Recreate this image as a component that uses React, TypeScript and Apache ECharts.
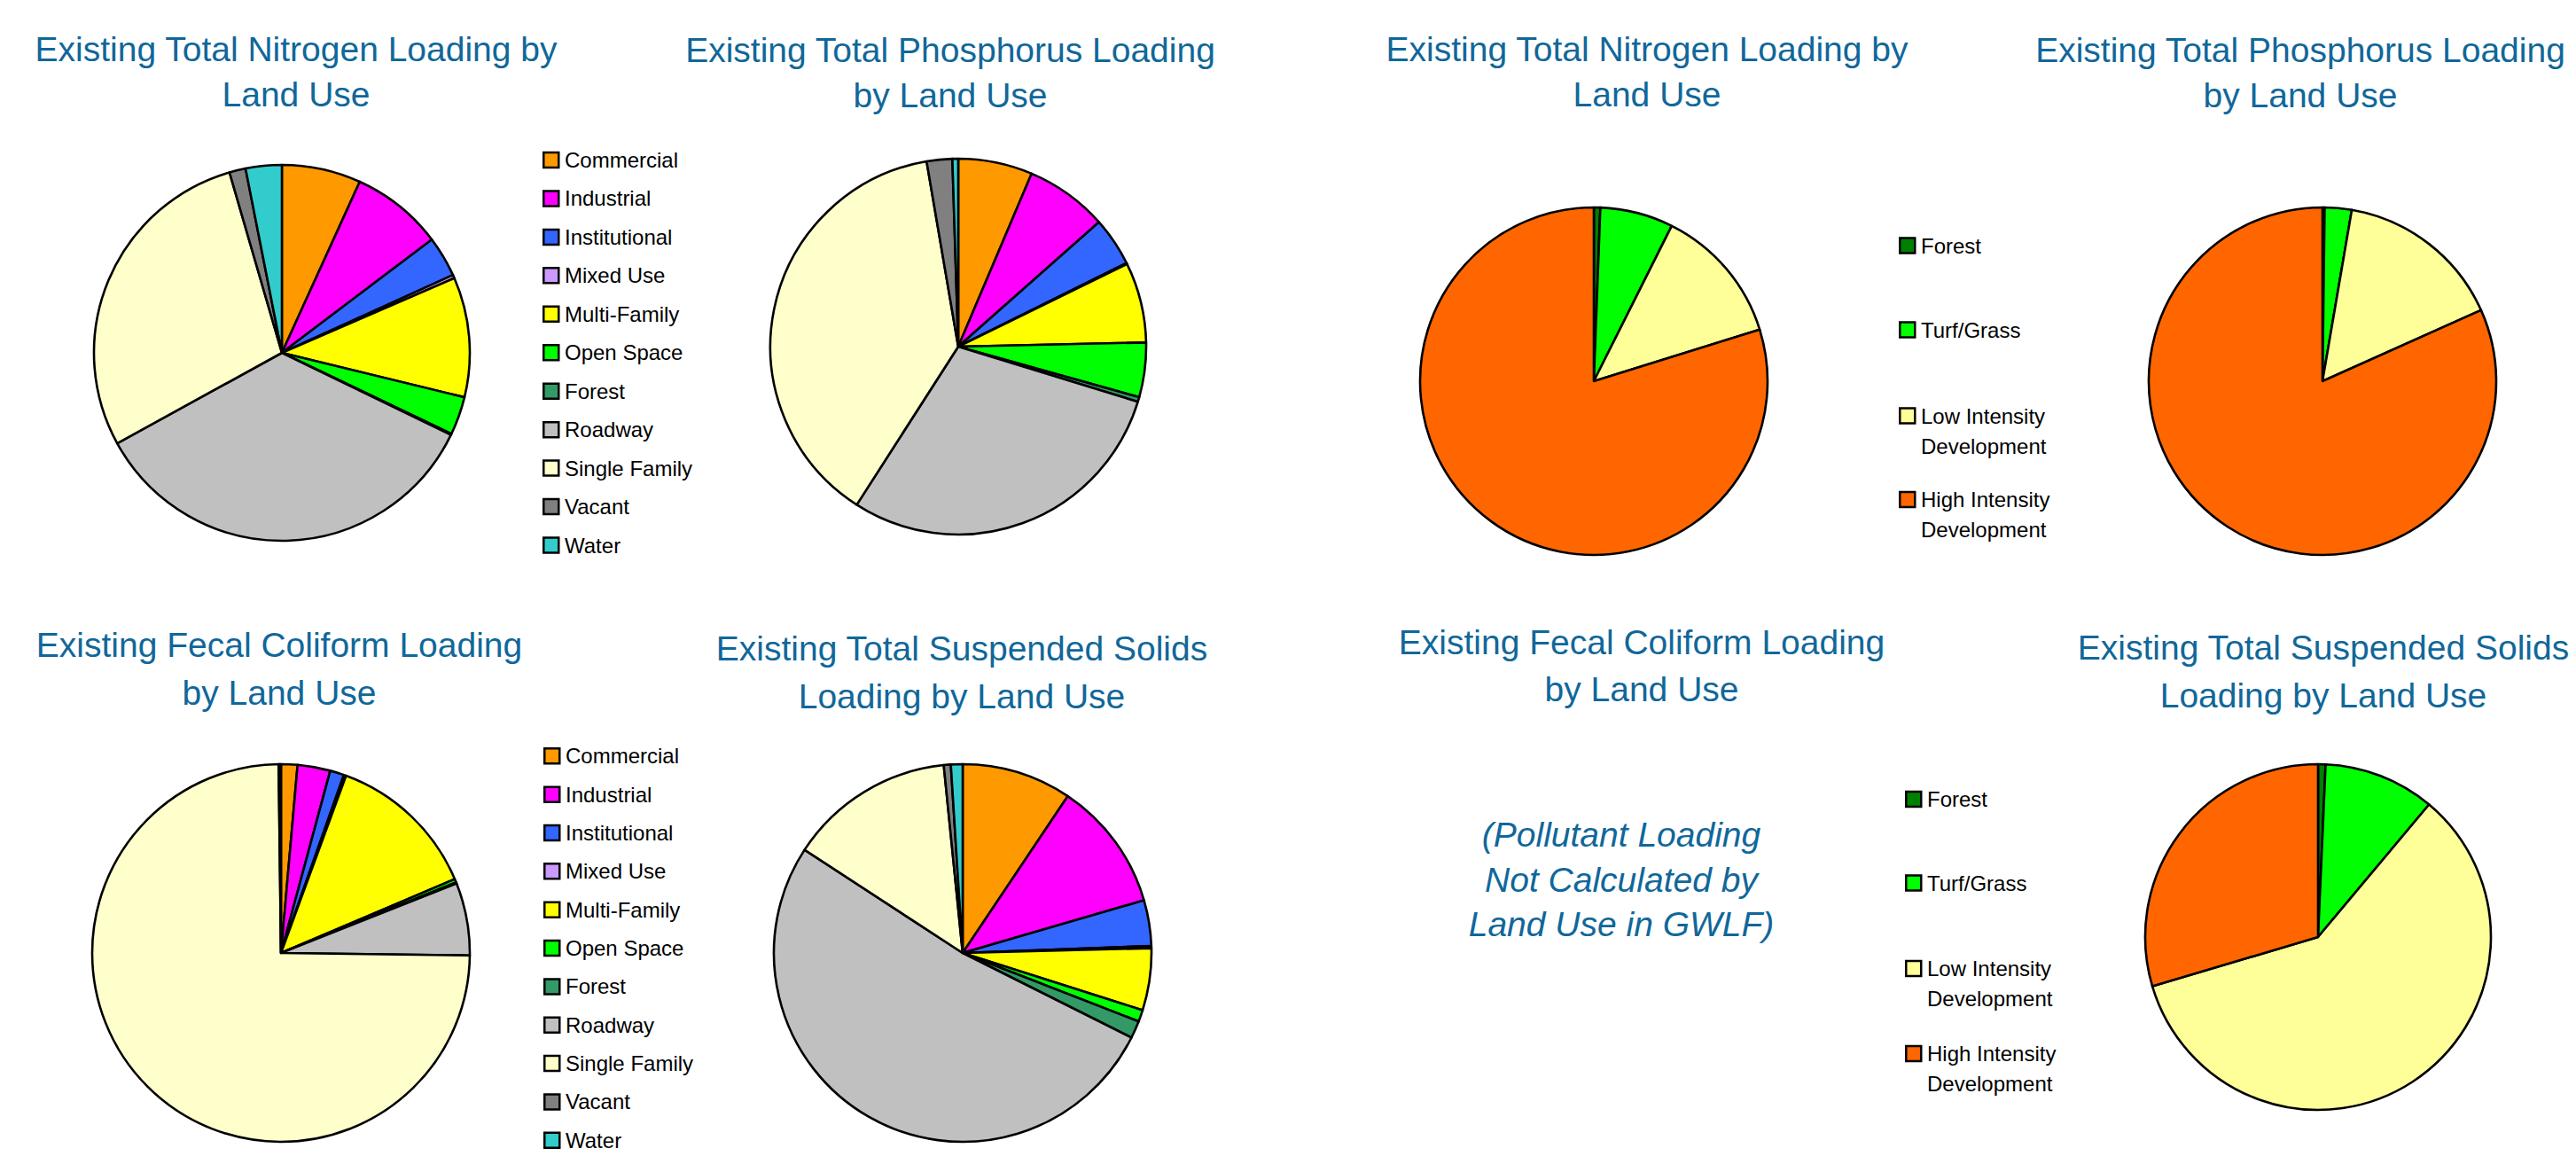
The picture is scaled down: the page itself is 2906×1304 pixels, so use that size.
import React, { useEffect, useRef } from "react";
import * as echarts from "echarts";

// Detailed land use classes (left-hand pies)
const landUses = [
  "Commercial",
  "Industrial",
  "Institutional",
  "Mixed Use",
  "Multi-Family",
  "Open Space",
  "Forest",
  "Roadway",
  "Single Family",
  "Vacant",
  "Water",
];
const landUseColors = [
  "#FF9900",
  "#FF00FF",
  "#3366FF",
  "#CC99FF",
  "#FFFF00",
  "#00FF00",
  "#339966",
  "#C0C0C0",
  "#FFFFCC",
  "#808080",
  "#33CCCC",
];

// Loading shares (%) by detailed land use
const nitrogenByLandUse = [6.8, 7.9, 3.5, 0.3, 10.3, 3.3, 0.1, 34.8, 28.5, 1.4, 3.1];
const phosphorusByLandUse = [6.4, 7.1, 4.2, 0.1, 6.9, 4.7, 0.4, 29.4, 38.3, 2.2, 0.5];
const fecalByLandUse = [1.4, 2.8, 1.2, 0.2, 13.0, 0.3, 0.1, 6.2, 74.6, 0.1, 0.1];
const tssByLandUse = [9.4, 11.1, 3.9, 0.2, 5.3, 1.0, 1.5, 51.8, 14.2, 0.6, 1.0];

// GWLF land cover classes (right-hand pies)
const gwlfClasses = [
  "Forest",
  "Turf/Grass",
  "Low Intensity Development",
  "High Intensity Development",
];
const gwlfColors = ["#008000", "#00FF00", "#FFFF99", "#FF6600"];

const nitrogenGwlf = [0.6, 6.8, 12.8, 79.8];
const phosphorusGwlf = [0.2, 2.5, 15.6, 81.7];
const tssGwlf = [0.7, 10.4, 59.3, 29.6];

const titleColor = "#10679A";
const titleFont = '39px "Liberation Sans", Arial, sans-serif';
const legendFont = '24px "Liberation Sans", Arial, sans-serif';

function pieSeries(
  id: string,
  names: string[],
  values: number[],
  colors: string[],
  center: [number, number],
  radius: number
) {
  return {
    type: "pie",
    id,
    center,
    radius,
    startAngle: 90,
    clockwise: true,
    silent: true,
    label: { show: false },
    labelLine: { show: false },
    emphasis: { disabled: true },
    itemStyle: { borderColor: "#000000", borderWidth: 2.6 },
    data: names.map((name, i) => ({
      name,
      value: values[i],
      itemStyle: { color: colors[i] },
    })),
  };
}

function titleText(text: string, x: number, firstLineY: number, lineHeight: number, italic = false) {
  return {
    type: "text",
    x,
    y: firstLineY - lineHeight / 2,
    silent: true,
    style: {
      text,
      fill: titleColor,
      font: (italic ? "italic " : "") + titleFont,
      align: "center",
      verticalAlign: "top",
      lineHeight,
    },
  };
}

// Legend built as swatch + label rows; wrapped labels keep the swatch beside the first line
function legendBlock(
  names: string[],
  colors: string[],
  x: number,
  rowYs: number[],
  lineHeight: number,
  wrap: (s: string) => string
) {
  const children: any[] = [];
  names.forEach((name, i) => {
    const cy = rowYs[i];
    children.push({
      type: "rect",
      silent: true,
      shape: { x: x + 1.25, y: cy - 8.5, width: 17, height: 17 },
      style: { fill: colors[i], stroke: "#000000", lineWidth: 2.5 },
    });
    children.push({
      type: "text",
      silent: true,
      x: x + 25,
      y: cy - lineHeight / 2,
      style: {
        text: wrap(name),
        fill: "#000000",
        font: legendFont,
        align: "left",
        verticalAlign: "top",
        lineHeight,
      },
    });
  });
  return children;
}

const evenRows = (start: number, step: number, n: number) =>
  Array.from({ length: n }, (_, i) => start + step * i);

export default function App() {
  const ref = useRef<HTMLDivElement>(null);

  useEffect(() => {
    if (!ref.current) return;
    const chart = echarts.init(ref.current, undefined, { renderer: "svg" });

    const wrapGwlf = (s: string) => s.replace(" Development", "\nDevelopment");
    const noWrap = (s: string) => s;

    chart.setOption({
      animation: false,
      backgroundColor: "#ffffff",
      series: [
        pieSeries("tn", landUses, nitrogenByLandUse, landUseColors, [318, 398], 212),
        pieSeries("tp", landUses, phosphorusByLandUse, landUseColors, [1081, 391], 212),
        pieSeries("fc", landUses, fecalByLandUse, landUseColors, [317, 1075], 213),
        pieSeries("tss", landUses, tssByLandUse, landUseColors, [1086, 1075], 213),
        pieSeries("tnGwlf", gwlfClasses, nitrogenGwlf, gwlfColors, [1798, 430], 196),
        pieSeries("tpGwlf", gwlfClasses, phosphorusGwlf, gwlfColors, [2620, 430], 196),
        pieSeries("tssGwlf", gwlfClasses, tssGwlf, gwlfColors, [2615, 1057], 195),
      ],
      graphic: [
        titleText("Existing Total Nitrogen Loading by\nLand Use", 334, 55, 51),
        titleText("Existing Total Phosphorus Loading\nby Land Use", 1072, 56, 51),
        titleText("Existing Total Nitrogen Loading by\nLand Use", 1858, 55, 51),
        titleText("Existing Total Phosphorus Loading\nby Land Use", 2595, 56, 51),
        titleText("Existing Fecal Coliform Loading\nby Land Use", 315, 727.5, 53.5),
        titleText("Existing Total Suspended Solids\nLoading by Land Use", 1085, 732, 53.7),
        titleText("Existing Fecal Coliform Loading\nby Land Use", 1852, 724, 53),
        titleText("Existing Total Suspended Solids\nLoading by Land Use", 2621, 730, 54.5),
        titleText(
          "(Pollutant Loading\nNot Calculated by\nLand Use in GWLF)",
          1829,
          941.5,
          50.5,
          true
        ),
        ...legendBlock(landUses, landUseColors, 612, evenRows(180.5, 43.45, 11), 30, noWrap),
        ...legendBlock(landUses, landUseColors, 613, evenRows(852.8, 43.35, 11), 30, noWrap),
        ...legendBlock(gwlfClasses, gwlfColors, 2142, [277, 372, 469, 563.5], 34, wrapGwlf),
        ...legendBlock(gwlfClasses, gwlfColors, 2149, [901.5, 996, 1092.5, 1188.5], 34, wrapGwlf),
      ],
    });

    return () => chart.dispose();
  }, []);

  return (
    <div
      ref={ref}
      style={{ position: "fixed", left: 0, top: 0, width: 2906, height: 1304 }}
    />
  );
}
